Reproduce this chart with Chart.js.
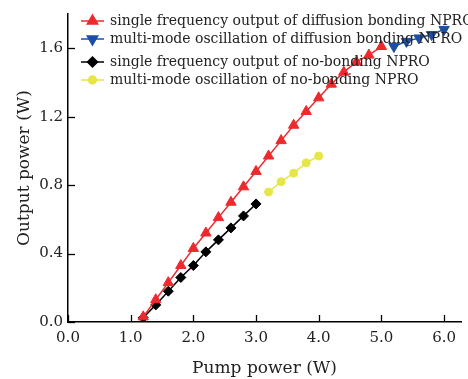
<!DOCTYPE html>
<html>
<head>
<meta charset="utf-8">
<script src="https://cdn.jsdelivr.net/npm/chart.js@4/dist/chart.umd.min.js"></script>
<style>
  html, body { margin: 0; padding: 0; background: #fff; }
  #wrap { width: 468px; height: 379px; position: relative; }
</style>
</head>
<body>
<div id="wrap"><canvas id="myChart" width="468" height="379"></canvas></div>
<script>
// pump power (W) for each series
const pumpSfBonded = [1.2, 1.4, 1.6, 1.8, 2.0, 2.2, 2.4, 2.6, 2.8, 3.0, 3.2, 3.4, 3.6, 3.8, 4.0, 4.2, 4.4, 4.6, 4.8, 5.0];
const pumpMmBonded = [5.2, 5.4, 5.6, 5.8, 6.0];
const pumpSfPlain = [1.2, 1.4, 1.6, 1.8, 2.0, 2.2, 2.4, 2.6, 2.8, 3.0];
const pumpMmPlain = [3.2, 3.4, 3.6, 3.8, 4.0];

// output power (W)
const outSfBonded = [0.03, 0.13, 0.23, 0.33, 0.43, 0.52, 0.61, 0.70, 0.79, 0.88, 0.97, 1.06, 1.15, 1.23, 1.31, 1.39, 1.46, 1.52, 1.56, 1.61];
const outMmBonded = [1.61, 1.64, 1.66, 1.68, 1.71];
const outSfPlain = [0.025, 0.10, 0.18, 0.26, 0.33, 0.41, 0.48, 0.55, 0.62, 0.69];
const outMmPlain = [0.76, 0.82, 0.87, 0.93, 0.97];

const seriesLabels = [
  "single frequency output of diffusion bonding NPRO",
  "multi-mode oscillation of diffusion bonding NPRO",
  "single frequency output of no-bonding NPRO",
  "multi-mode oscillation of no-bonding NPRO",
];

const xTicks = [0, 1, 2, 3, 4, 5, 6];
const yTicks = [0, 0.4, 0.8, 1.2, 1.6];

const FONT = "'DejaVu Serif', serif";

const toPoints = (xs, ys) => xs.map((x, i) => ({ x: x, y: ys[i] }));

// inward tick marks on the left and bottom axes
const innerTicks = {
  id: "innerTicks",
  afterDraw(chart) {
    const ctx = chart.ctx;
    const xs = chart.scales.x;
    const ys = chart.scales.y;
    ctx.save();
    ctx.strokeStyle = "#000";
    ctx.lineWidth = 1.3;
    xTicks.forEach((v) => {
      const px = Math.round(xs.getPixelForValue(v)) + 0.5;
      ctx.beginPath();
      ctx.moveTo(px, ys.bottom);
      ctx.lineTo(px, ys.bottom - 7);
      ctx.stroke();
    });
    yTicks.forEach((v) => {
      const py = Math.round(ys.getPixelForValue(v)) + 0.5;
      ctx.beginPath();
      ctx.moveTo(xs.left, py);
      ctx.lineTo(xs.left + 7, py);
      ctx.stroke();
    });
    ctx.restore();
  },
};

// legend drawn inside the plot, top-left
const insideLegend = {
  id: "insideLegend",
  afterDatasetsDraw(chart) {
    const ctx = chart.ctx;
    const rows = [21, 39, 62, 80];
    ctx.save();
    ctx.font = "14px " + FONT;
    ctx.textBaseline = "middle";
    chart.data.datasets.forEach((ds, i) => {
      const y = rows[i];
      ctx.strokeStyle = ds.borderColor;
      ctx.lineWidth = 1.5;
      ctx.beginPath();
      ctx.moveTo(81, y);
      ctx.lineTo(104, y);
      ctx.stroke();
      ctx.fillStyle = ds.pointBackgroundColor;
      ctx.strokeStyle = ds.pointBackgroundColor;
      Chart.helpers.drawPoint(ctx, {
        pointStyle: ds.pointStyle,
        radius: ds.pointRadius,
        rotation: ds.pointRotation || 0,
        borderWidth: 1,
      }, 92.5, y);
      ctx.fillStyle = "#222";
      ctx.fillText(ds.label, 110, y);
    });
    ctx.restore();
  },
};

const mk = (label, pts, color, style, radius, rotation) => ({
  label: label,
  data: pts,
  showLine: true,
  borderColor: color,
  backgroundColor: color,
  pointBackgroundColor: color,
  pointBorderColor: color,
  borderWidth: 1.5,
  pointStyle: style,
  pointRadius: radius,
  pointRotation: rotation || 0,
  pointBorderWidth: 1,
});

const ctx = document.getElementById("myChart").getContext("2d");
new Chart(ctx, {
  type: "scatter",
  data: {
    datasets: [
      mk(seriesLabels[0], toPoints(pumpSfBonded, outSfBonded), "#ec2a2e", "triangle", 6),
      mk(seriesLabels[1], toPoints(pumpMmBonded, outMmBonded), "#1c4fa3", "triangle", 6, 180),
      mk(seriesLabels[2], toPoints(pumpSfPlain, outSfPlain), "#000000", "rectRot", 5),
      mk(seriesLabels[3], toPoints(pumpMmPlain, outMmPlain), "#e6e64a", "circle", 4),
    ],
  },
  options: {
    responsive: false,
    animation: false,
    layout: { padding: { top: 9, right: 4, left: 0, bottom: 0 } },
    plugins: { legend: { display: false }, tooltip: { enabled: false } },
    scales: {
      x: {
        type: "linear",
        min: 0,
        max: 6.27,
        afterBuildTicks: (s) => { s.ticks = xTicks.map((v) => ({ value: v })); },
        afterFit: (s) => { s.height = 57; },
        grid: { display: true, drawOnChartArea: false, drawTicks: false },
        border: { display: true, color: "#000", width: 1.5 },
        ticks: {
          color: "#222",
          padding: 7,
          font: { family: FONT, size: 15 },
          callback: (v) => Number(v).toFixed(1),
        },
        title: {
          display: true,
          text: "Pump power (W)",
          color: "#222",
          font: { family: FONT, size: 17 },
          padding: { top: 2, bottom: 0 },
        },
      },
      y: {
        type: "linear",
        min: 0,
        max: 1.8,
        afterBuildTicks: (s) => { s.ticks = yTicks.map((v) => ({ value: v })); },
        afterFit: (s) => { s.width = 68; },
        grid: { display: true, drawOnChartArea: false, drawTicks: false },
        border: { display: true, color: "#000", width: 1.5 },
        ticks: {
          color: "#222",
          padding: 5,
          font: { family: FONT, size: 15 },
          callback: (v) => Number(v).toFixed(1),
        },
        title: {
          display: true,
          text: "Output power (W)",
          color: "#222",
          font: { family: FONT, size: 17 },
          padding: { top: 14, bottom: 0 },
        },
      },
    },
  },
  plugins: [innerTicks, insideLegend],
});
</script>
</body>
</html>
